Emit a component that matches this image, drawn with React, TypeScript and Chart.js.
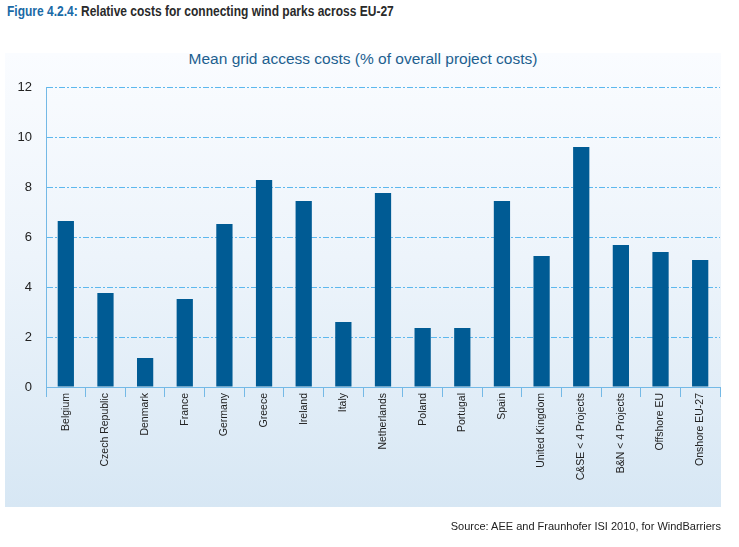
import React, { useEffect, useRef } from "react";
import { Chart, registerables } from "chart.js";

Chart.register(...registerables);

const categories = [
  "Belgium",
  "Czech Republic",
  "Denmark",
  "France",
  "Germany",
  "Greece",
  "Ireland",
  "Italy",
  "Netherlands",
  "Poland",
  "Portugal",
  "Spain",
  "United Kingdom",
  "C&SE < 4 Projects",
  "B&N < 4 Projects",
  "Offshore EU",
  "Onshore EU-27",
];

const meanGridAccessCosts = [
  6.64, 3.76, 1.16, 3.52, 6.52, 8.28, 7.44, 2.6, 7.76, 2.36, 2.36, 7.44, 5.24,
  9.6, 5.68, 5.4, 5.08,
];

const yTicks = [0, 2, 4, 6, 8, 10, 12];

const headerLabel = "Figure 4.2.4:";
const headerText = " Relative costs for connecting wind parks across EU-27";
const chartTitle = "Mean grid access costs (% of overall project costs)";
const sourceText = "Source: AEE and Fraunhofer ISI 2010, for WindBarriers";

const BAR = "#005b94";
const AXIS = "#74b9e6";
const GRID = "#5db8ee";

export default function App() {
  const ref = useRef<HTMLCanvasElement | null>(null);

  useEffect(() => {
    if (!ref.current) return;
    const chart = new Chart(ref.current, {
      type: "bar",
      data: {
        labels: categories,
        datasets: [
          {
            label: chartTitle,
            data: meanGridAccessCosts,
            backgroundColor: BAR,
            borderWidth: 0,
            categoryPercentage: 1,
            barPercentage: 0.41,
          },
        ],
      },
      options: {
        responsive: false,
        animation: false,
        devicePixelRatio: 1,
        layout: { padding: { left: 0, right: 19, top: 87, bottom: 0 } },
        plugins: {
          legend: { display: false },
          tooltip: { enabled: false },
          title: { display: false },
        },
        scales: {
          x: {
            afterFit: (s: any) => {
              s.height = 160;
            },
            grid: {
              offset: true,
              drawOnChartArea: false,
              drawTicks: true,
              tickLength: 10,
              color: AXIS,
              lineWidth: 1,
            },
            border: { display: true, color: AXIS, width: 1 },
            ticks: {
              minRotation: 90,
              maxRotation: 90,
              autoSkip: false,
              padding: -4,
              color: "#222",
              font: { family: "'Liberation Sans', Arial, sans-serif", size: 10.5 },
            },
          },
          y: {
            min: 0,
            max: 12,
            afterFit: (s: any) => {
              s.width = 46;
            },
            afterBuildTicks: (s: any) => {
              s.ticks = yTicks.map((v) => ({ value: v }));
            },
            grid: {
              drawTicks: false,
              color: GRID,
              lineWidth: 1,
            },
            border: { display: true, color: AXIS, width: 1, dash: [6, 2, 2, 2] } as any,
            ticks: {
              padding: 14,
              color: "#222",
              font: { family: "'Liberation Sans', Arial, sans-serif", size: 13 },
            },
          },
        },
      },
    });
    return () => chart.destroy();
  }, []);

  return (
    <div
      style={{
        position: "fixed",
        left: 0,
        top: 0,
        width: 739,
        height: 547,
        background: "#fff",
        overflow: "hidden",
        fontFamily: "'Liberation Sans', Arial, sans-serif",
      }}
    >
      <div
        style={{
          position: "absolute",
          left: 7,
          top: 3,
          fontWeight: "bold",
          fontSize: 14,
          color: "#2a2a2a",
          whiteSpace: "nowrap",
          transform: "scaleX(0.857)",
          transformOrigin: "left top",
        }}
      >
        <span style={{ color: "#1a6aa6" }}>{headerLabel}</span>
        {headerText}
      </div>
      <div
        style={{
          position: "absolute",
          left: 5,
          top: 53,
          width: 716,
          height: 454,
          background: "linear-gradient(to bottom, #fafcff 0%, #edf4fb 45%, #d7e7f4 100%)",
        }}
      />
      <div
        style={{
          position: "absolute",
          left: 0,
          width: 726,
          top: 50,
          textAlign: "center",
          fontSize: 15.5,
          color: "#1d5f8f",
          whiteSpace: "nowrap",
        }}
      >
        {chartTitle}
      </div>
      <canvas
        ref={ref}
        width={739}
        height={547}
        style={{ position: "absolute", left: 0, top: 0, width: 739, height: 547 }}
      />
      <div
        style={{
          position: "absolute",
          right: 18,
          top: 520,
          fontSize: 11,
          color: "#222",
          whiteSpace: "nowrap",
        }}
      >
        {sourceText}
      </div>
    </div>
  );
}
